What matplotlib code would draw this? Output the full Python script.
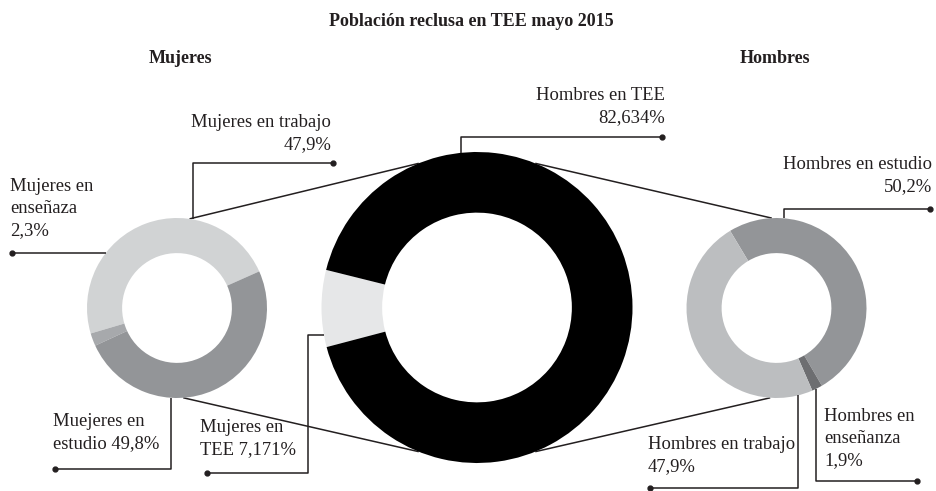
import numpy as np
import matplotlib.pyplot as plt

# data
muj_names = ['Mujeres en trabajo', 'Mujeres en\nenseñaza', 'Muejeres en\nestudio']
muj_vals = [47.9, 2.3, 49.8]
hom_names = ['Hombres en estudio', 'Hombres en\nenseñanza', 'Hombres en trabajo']
hom_vals = [50.2, 1.9, 47.9]
tee_names = ['Mujeres en\nTEE', 'Hombres en TEE']
tee_vals = [7.171, 82.634]

muj_colors = ['#d1d3d4', '#a7a9ac', '#939598']
hom_colors = ['#939598', '#6d6e71', '#bcbec0']
tee_colors = ['#e6e7e8', '#000000']

W, H = 936, 491
FONT = 'Liberation Serif'
LINE = '#231f20'

fig = plt.figure(figsize=(W / 100, H / 100), dpi=100)
ax = fig.add_axes([0, 0, 1, 1])

# donut geometry in pixels (y from top)
L = (177, 308); RL = 90
C = (477, 307.5); RC = 155.5
R = (776.5, 308); RR = 90
WF = 0.39


def donut(vals, c, r, start, ccw, colors):
    wedges, _ = ax.pie(vals, center=(c[0], H - c[1]), radius=r, startangle=start,
                       counterclock=ccw, colors=colors,
                       wedgeprops=dict(width=r * WF, linewidth=0))
    for w in wedges:
        w.set_zorder(2)


def ring_pt(c, r, ang):
    a = np.radians(ang)
    return c[0] + r * np.cos(a), c[1] - r * np.sin(a)


def line(pts, dot=True, z=3):
    xs = [p[0] for p in pts]
    ys = [H - p[1] for p in pts]
    ax.plot(xs, ys, color=LINE, lw=1.1, zorder=z, solid_capstyle='butt')
    if dot:
        ax.plot(xs[-1], ys[-1], 'o', color=LINE, ms=3.5, zorder=z)


def fmt(v, d=1):
    return f'{v:.{d}f}'.replace('.', ',') + '%'


def label(txt, x, y, ha):
    ax.text(x, H - y, txt, ha=ha, va='top', multialignment=ha,
            fontsize=13.4, family=FONT, color='#231f20', linespacing=1.4)


donut(muj_vals, L, RL, 24, True, muj_colors)
donut(tee_vals, C, RC, 166, True, tee_colors)
donut(hom_vals, R, RR, 121, False, hom_colors)

# connectors between small donuts and central donut
line([ring_pt(L, RL, 82), ring_pt(C, RC, 112)], dot=False, z=1)
line([ring_pt(L, RL, 274), ring_pt(C, RC, 248)], dot=False, z=1)
line([ring_pt(R, RR, 93), ring_pt(C, RC, 68)], dot=False, z=1)
line([ring_pt(R, RR, 266), ring_pt(C, RC, 292)], dot=False, z=1)

# leaders - mujeres
p = ring_pt(L, RL, 80)
line([p, (p[0], 163), (333, 163)])
label(muj_names[0] + '\n' + fmt(muj_vals[0]), 331, 114, 'right')

p = ring_pt(L, RL, 142)
line([p, (12, p[1])])
label(muj_names[1] + '\n' + fmt(muj_vals[1]), 10, 178, 'left')

p = ring_pt(L, RL, 266)
line([p, (p[0], 469), (55, 469)])
label(muj_names[2] + ' ' + fmt(muj_vals[2]), 53, 413, 'left')

p = ring_pt(C, RC, 190)
line([p, (308, p[1]), (308, 473), (207, 473)])
label(tee_names[0] + ' ' + fmt(tee_vals[0], 3), 200, 419, 'left')

# leaders - hombres
p = ring_pt(C, RC, 96)
line([p, (p[0], 137), (662, 137)])
label(tee_names[1] + '\n' + fmt(tee_vals[1], 3), 665, 87, 'right')

p = ring_pt(R, RR, 85)
line([p, (p[0], 209), (930, 209)])
label(hom_names[0] + '\n' + fmt(hom_vals[0]), 932, 156, 'right')

p = ring_pt(R, RR, 284)
line([p, (p[0], 488), (650, 488)])
label(hom_names[2] + '\n' + fmt(hom_vals[2]), 648, 436, 'left')

p = ring_pt(R, RR, 296)
line([p, (p[0], 481), (917, 481)])
label(hom_names[1] + '\n' + fmt(hom_vals[1]), 824, 408, 'left')

# titles
ax.text(471, H - 21, 'Población reclusa en TEE mayo 2015', ha='center',
        va='center', fontsize=13, fontweight='bold', family=FONT, color='#231f20')
ax.text(180, H - 58, 'Mujeres', ha='center', va='center', fontsize=13,
        fontweight='bold', family=FONT, color='#231f20')
ax.text(775, H - 58, 'Hombres', ha='center', va='center', fontsize=13,
        fontweight='bold', family=FONT, color='#231f20')

ax.set_xlim(0, W)
ax.set_ylim(0, H)
ax.set_aspect('equal')
ax.axis('off')

fig.savefig('out.png', dpi=100, facecolor='white')
